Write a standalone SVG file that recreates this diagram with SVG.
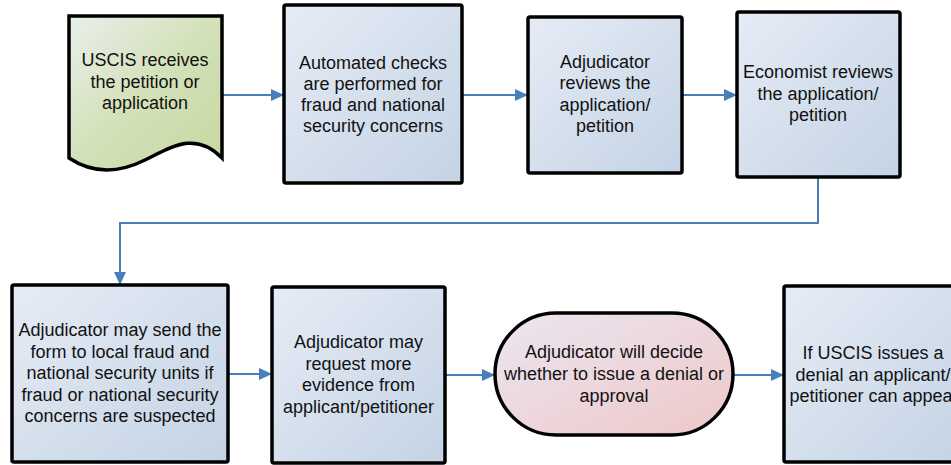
<svg xmlns="http://www.w3.org/2000/svg" width="951" height="465" viewBox="0 0 951 465">
  <defs>
    <linearGradient id="gBlue" x1="0" y1="0" x2="1" y2="1">
      <stop offset="0" stop-color="#e6ecf6"/>
      <stop offset="1" stop-color="#c4d3e4"/>
    </linearGradient>
    <linearGradient id="gGreen" x1="0" y1="0" x2="1" y2="1">
      <stop offset="0" stop-color="#e9efeb"/>
      <stop offset="0.5" stop-color="#d3e1b9"/>
      <stop offset="1" stop-color="#c6d89f"/>
    </linearGradient>
    <linearGradient id="gPink" x1="0" y1="0" x2="1" y2="1">
      <stop offset="0" stop-color="#ebe6f1"/>
      <stop offset="1" stop-color="#eec8c8"/>
    </linearGradient>
    <marker id="arrow" markerUnits="userSpaceOnUse" markerWidth="14" markerHeight="12" refX="13" refY="6" orient="auto">
      <path d="M0,0 L13,6 L0,12 Z" fill="#4a7ebb"/>
    </marker>
  </defs>
  <style>
    .box { stroke: #000; stroke-width: 3.5; }
    .blue { fill: url(#gBlue); }
    .lbl { font-family: "Liberation Sans", Arial, sans-serif; font-size: 18px; fill: #111; text-anchor: middle; }
    .conn { fill: none; stroke: #4a7ebb; stroke-width: 2; marker-end: url(#arrow); }
  </style>

  <rect width="951" height="465" fill="#fff"/>

  <!-- connectors -->
  <g id="connectors">
    <path class="conn" d="M222,95 H284"/>
    <path class="conn" d="M462,95 H528"/>
    <path class="conn" d="M682,95 H737"/>
    <path class="conn" d="M818,177 V223 H120 V285"/>
    <path class="conn" d="M228,374 H272"/>
    <path class="conn" d="M445,375 H495"/>
    <path class="conn" d="M733,375 H784"/>
  </g>

  <!-- step 1: document shape -->
  <g id="receive">
    <path class="box" fill="url(#gGreen)" d="M69,16 H222 V158 C195,130 170,148 145,160 C115,175 90,172 69,158 Z"/>
    <text class="lbl" x="145" y="66">USCIS receives</text>
    <text class="lbl" x="145" y="87.5">the petition or</text>
    <text class="lbl" x="145" y="109">application</text>
  </g>

  <g id="automated">
    <rect class="box blue" x="284" y="5" width="178" height="178" rx="2"/>
    <text class="lbl" x="373" y="69">Automated checks</text>
    <text class="lbl" x="373" y="90">are performed for</text>
    <text class="lbl" x="373" y="111">fraud and national</text>
    <text class="lbl" x="373" y="132">security concerns</text>
  </g>

  <g id="adj-review">
    <rect class="box blue" x="528" y="17" width="154" height="156" rx="2"/>
    <text class="lbl" x="605" y="68">Adjudicator</text>
    <text class="lbl" x="605" y="89">reviews the</text>
    <text class="lbl" x="605" y="110.5">application/</text>
    <text class="lbl" x="605" y="132">petition</text>
  </g>

  <g id="economist">
    <rect class="box blue" x="737" y="12" width="163" height="165" rx="2"/>
    <text class="lbl" x="818" y="78">Economist reviews</text>
    <text class="lbl" x="818" y="99.5">the application/</text>
    <text class="lbl" x="818" y="121">petition</text>
  </g>

  <g id="fraud-units">
    <rect class="box blue" x="12" y="285" width="216" height="177" rx="2"/>
    <text class="lbl" x="120" y="336">Adjudicator may send the</text>
    <text class="lbl" x="120" y="357.5">form to local fraud and</text>
    <text class="lbl" x="120" y="379">national security units if</text>
    <text class="lbl" x="120" y="400.5">fraud or national security</text>
    <text class="lbl" x="120" y="422">concerns are suspected</text>
  </g>

  <g id="evidence">
    <rect class="box blue" x="272" y="287" width="173" height="176" rx="2"/>
    <text class="lbl" x="358.5" y="348">Adjudicator may</text>
    <text class="lbl" x="358.5" y="369.5">request more</text>
    <text class="lbl" x="358.5" y="391">evidence from</text>
    <text class="lbl" x="358.5" y="412.5">applicant/petitioner</text>
  </g>

  <g id="decision">
    <rect class="box" fill="url(#gPink)" x="495" y="313" width="238" height="122" rx="61"/>
    <text class="lbl" x="614" y="358">Adjudicator will decide</text>
    <text class="lbl" x="614" y="380">whether to issue a denial or</text>
    <text class="lbl" x="614" y="401.5">approval</text>
  </g>

  <g id="appeal">
    <rect class="box blue" x="784" y="286" width="178" height="176" rx="2"/>
    <text class="lbl" x="873" y="359">If USCIS issues a</text>
    <text class="lbl" x="873" y="381">denial an applicant/</text>
    <text class="lbl" x="873" y="402">petitioner can appeal</text>
  </g>
</svg>
